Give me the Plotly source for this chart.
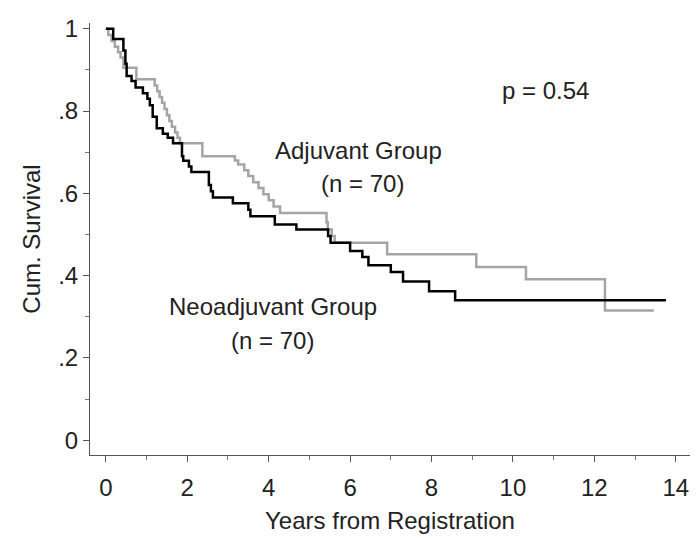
import plotly.graph_objects as go

# Neoadjuvant group (black) Kaplan-Meier steps: time (years), cumulative survival
neo_time = [0, 0.18, 0.43, 0.48, 0.51, 0.63, 0.73, 0.91, 1.02, 1.08, 1.15, 1.25, 1.40, 1.52,
            1.65, 1.87, 1.90, 2.04, 2.10, 2.53, 2.58, 2.63, 3.12, 3.50, 3.55, 4.15, 4.68, 5.46,
            5.52, 6.00, 6.30, 6.45, 7.00, 7.30, 7.94, 8.58, 13.76]
neo_surv = [1.0, 0.975, 0.947, 0.915, 0.885, 0.873, 0.857, 0.843, 0.83, 0.814, 0.786, 0.758,
            0.745, 0.735, 0.722, 0.69, 0.679, 0.665, 0.652, 0.62, 0.605, 0.59, 0.576, 0.56,
            0.544, 0.524, 0.512, 0.496, 0.48, 0.46, 0.445, 0.425, 0.409, 0.386, 0.362, 0.34, 0.34]

# Adjuvant group (gray)
adj_time = [0, 0.06, 0.14, 0.22, 0.30, 0.36, 0.43, 0.75, 1.20, 1.26, 1.32, 1.38, 1.44, 1.50,
            1.56, 1.62, 1.70, 1.76, 1.82, 2.37, 3.17, 3.25, 3.40, 3.50, 3.62, 3.75, 3.87, 4.00,
            4.12, 4.28, 5.42, 5.45, 5.55, 5.62, 6.91, 9.10, 10.32, 12.26, 13.46]
adj_surv = [1.0, 0.985, 0.97, 0.956, 0.943, 0.93, 0.905, 0.877, 0.862, 0.848, 0.834, 0.82,
            0.805, 0.79, 0.776, 0.762, 0.748, 0.735, 0.722, 0.69, 0.68, 0.67, 0.656, 0.642,
            0.627, 0.613, 0.598, 0.583, 0.568, 0.552, 0.53, 0.512, 0.496, 0.48, 0.452, 0.421,
            0.391, 0.315, 0.315]

x_ticks = [0, 2, 4, 6, 8, 10, 12, 14]
x_labels = ["0", "2", "4", "6", "8", "10", "12", "14"]
y_ticks = [0, 0.2, 0.4, 0.6, 0.8, 1.0]
y_labels = ["0", ".2", ".4", ".6", ".8", "1"]

FONT = "Liberation Sans, Arial, Helvetica, sans-serif"
FS = 24
fig = go.Figure()
fig.add_trace(go.Scatter(x=adj_time, y=adj_surv, mode="lines", line_shape="hv",
                         line=dict(color="rgb(165,165,165)", width=2.5), name="Adjuvant Group"))
fig.add_trace(go.Scatter(x=neo_time, y=neo_surv, mode="lines", line_shape="hv",
                         line=dict(color="black", width=2.5), name="Neoadjuvant Group"))

txt = dict(showarrow=False, font=dict(family=FONT, size=FS, color="#222"))
fig.add_annotation(x=10.8, y=0.85, text="p = 0.54", **txt)
fig.add_annotation(x=6.2, y=0.705, text="Adjuvant Group", **txt)
fig.add_annotation(x=6.3, y=0.625, text="(n = 70)", **txt)
fig.add_annotation(x=4.1, y=0.325, text="Neoadjuvant Group", **txt)
fig.add_annotation(x=4.1, y=0.243, text="(n = 70)", **txt)

axis_common = dict(showline=True, linecolor="#555", linewidth=1, ticks="outside",
                   tickcolor="#555", ticklen=6, showgrid=False, zeroline=False,
                   ticklabeloverflow="allow",
                   tickfont=dict(family=FONT, size=FS, color="#222"))
fig.update_xaxes(range=[-0.39, 14.35], tickvals=x_ticks, ticktext=x_labels,
                 minor=dict(dtick=1, ticks="outside", ticklen=4, tickcolor="#777"),
                 ticklabelstandoff=5,
                 title=dict(text="Years from Registration", font=dict(family=FONT, size=FS, color="#222"),
                            standoff=12),
                 **axis_common)
fig.update_yaxes(range=[-0.036, 1.014], tickvals=y_ticks, ticktext=y_labels,
                 minor=dict(dtick=0.1, tick0=0, ticks="outside", ticklen=4, tickcolor="#777"),
                 title=dict(text="Cum. Survival", font=dict(family=FONT, size=FS, color="#222"),
                            standoff=10),
                 **axis_common)
# page body has an 8px default margin, so offset the plot area to match the reference
fig.update_layout(width=700, height=538, margin=dict(l=82, r=18, t=7, b=91),
                  plot_bgcolor="white", paper_bgcolor="white", showlegend=False)
fig.write_html("out.html")
